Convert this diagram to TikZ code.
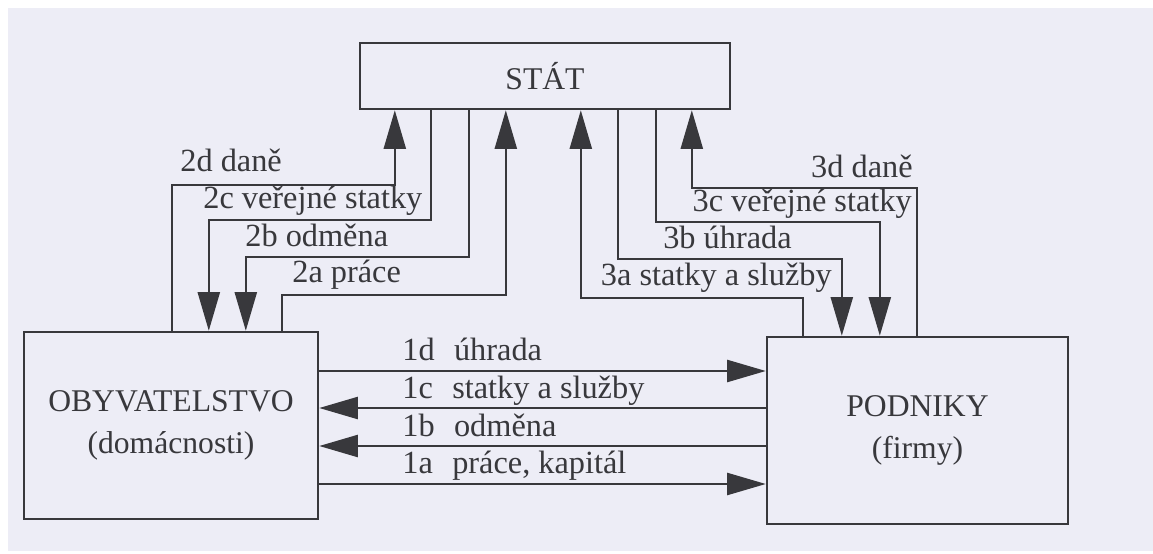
\documentclass[tikz,border=0pt]{standalone}
\usepackage{fontspec}
\setmainfont{Liberation Serif}
\usetikzlibrary{arrows.meta,calc}

\definecolor{paper}{RGB}{237,237,246}
\definecolor{ink}{RGB}{56,56,60}

\tikzset{
  sector/.style={draw=ink, line width=1.4pt, fill=paper, text=ink,
    align=center, font=\fontsize{18}{24}\selectfont},
  flow/.style={draw=ink, line width=1.4pt,
    -{Triangle[length=22pt,width=12.5pt]}},
  tag/.style={text=ink, inner sep=0pt, font=\fontsize{18.4}{22}\selectfont}
}

\begin{document}
\begin{tikzpicture}[x=0.02cm, y=-0.02cm]
  \useasboundingbox (0,0) rectangle (1153,554);
  \fill[white] (0,0) rectangle (1153,554);
  \fill[paper] (8,8) rectangle (1153,551);

  \node[sector, minimum width=7.4cm, minimum height=1.32cm] (stat) at (545,76) {STÁT};
  \node[sector, minimum width=5.88cm, minimum height=3.74cm] (oby) at (171,425.5)
    {OBYVATELSTVO\\(domácnosti)};
  \node[sector, minimum width=6.02cm, minimum height=3.74cm] (pod) at (917.5,430.5)
    {PODNIKY\\(firmy)};

  % households <-> firms
  \coordinate (h1d) at ($(oby.east)+(0,-54.5)$);
  \coordinate (h1c) at ($(oby.east)+(0,-17.5)$);
  \coordinate (h1b) at ($(oby.east)+(0,20.5)$);
  \coordinate (h1a) at ($(oby.east)+(0,58.5)$);
  \draw[flow] (h1d) -- (h1d -| pod.west);
  \draw[flow] (h1c -| pod.west) -- (h1c);
  \draw[flow] (h1b -| pod.west) -- (h1b);
  \draw[flow] (h1a) -- (h1a -| pod.west);
  \node[tag, anchor=base west] (t1d) at (402,360) {1d\hspace{0.6em}úhrada};
  \node[tag, anchor=base west] (t1c) at (402,398) {1c\hspace{0.6em}statky a služby};
  \node[tag, anchor=base west] (t1b) at (402,436) {1b\hspace{0.6em}odměna};
  \node[tag, anchor=base west] (t1a) at (402,473) {1a\hspace{0.6em}práce, kapitál};

  % households <-> state
  \draw[flow] ($(oby.north west)+(149,0)$) |- ($(stat.south west)+(36,75)$)
    -- ($(stat.south west)+(36,0)$);
  \draw[flow] ($(stat.south west)+(72,0)$) |- ($(oby.north west)+(186,-111)$)
    -- ($(oby.north west)+(186,0)$);
  \draw[flow] ($(stat.south west)+(110,0)$) |- ($(oby.north west)+(223,-74)$)
    -- ($(oby.north west)+(223,0)$);
  \draw[flow] ($(oby.north west)+(259,0)$) |- ($(stat.south west)+(147,185)$)
    -- ($(stat.south west)+(147,0)$);
  \node[tag, anchor=base west] (t2d) at (180,172) {2d daně};
  \node[tag, anchor=base west] (t2c) at (203,208) {2c veřejné statky};
  \node[tag, anchor=base west] (t2b) at (245,246) {2b odměna};
  \node[tag, anchor=base west] (t2a) at (292,282) {2a práce};

  % firms <-> state
  \draw[flow] ($(pod.north west)+(37,0)$) |- ($(stat.south west)+(222,188)$)
    -- ($(stat.south west)+(222,0)$);
  \draw[flow] ($(stat.south west)+(259,0)$) |- ($(pod.north west)+(76,-77)$)
    -- ($(pod.north west)+(76,0)$);
  \draw[flow] ($(stat.south west)+(297,0)$) |- ($(pod.north west)+(114,-114)$)
    -- ($(pod.north west)+(114,0)$);
  \draw[flow] ($(pod.north west)+(151,0)$) |- ($(stat.south west)+(333,78)$)
    -- ($(stat.south west)+(333,0)$);
  \node[tag, anchor=base east] (t3d) at (913,177) {3d daně};
  \node[tag, anchor=base east] (t3c) at (912,212) {3c veřejné statky};
  \node[tag, anchor=base east] (t3b) at (792,248) {3b úhrada};
  \node[tag, anchor=base east] (t3a) at (832,285) {3a statky a služby};
\end{tikzpicture}
\end{document}
